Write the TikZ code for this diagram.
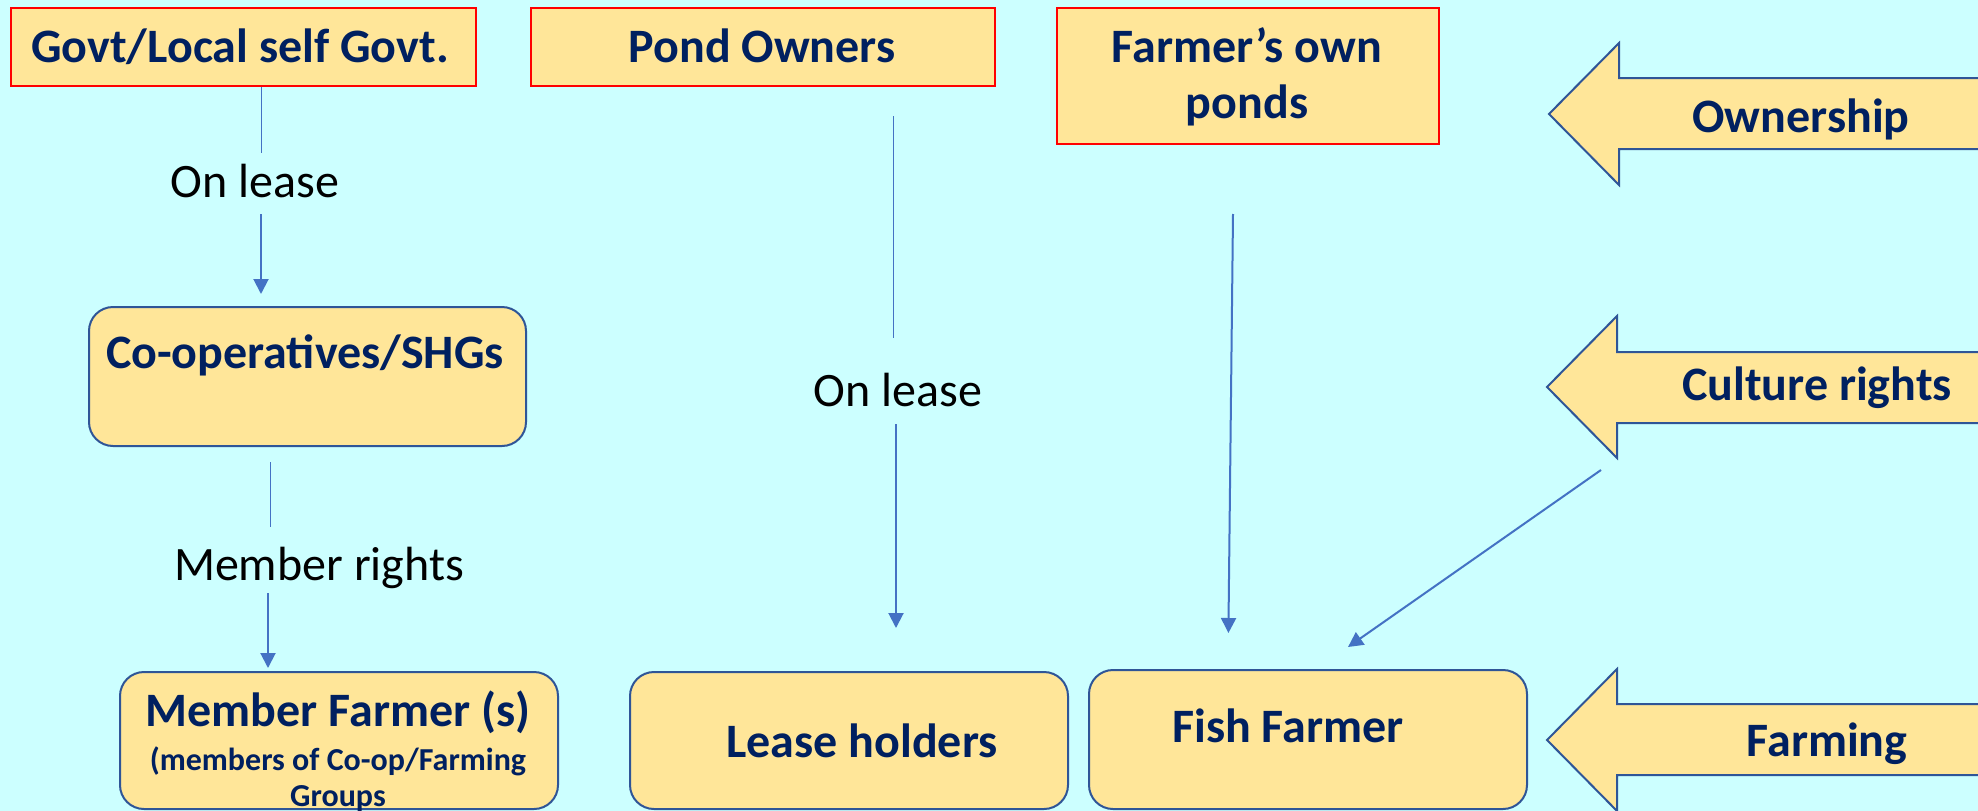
\documentclass[tikz,border=0pt]{standalone}
\usepackage{fontspec}
\setmainfont{Carlito}
\usetikzlibrary{arrows.meta}
\definecolor{bg}{HTML}{CCFFFF}
\definecolor{gold}{HTML}{FFE699}
\definecolor{navy}{HTML}{002060}
\definecolor{edge}{HTML}{2F5597}
\definecolor{link}{HTML}{4472C4}
\definecolor{redb}{HTML}{FF0000}
\begin{document}
\begin{tikzpicture}[x=1pt,y=-1pt,
 topbox/.style={draw=redb, line width=2pt, fill=gold, anchor=north west, inner sep=0},
 rbox/.style={draw=edge, line width=2pt, fill=gold, rounded corners=24pt, anchor=north west, inner sep=0},
 btext/.style={font=\fontsize{48}{58}\selectfont\bfseries, text=navy, anchor=base, inner sep=0},
 stext/.style={font=\fontsize{32}{38}\selectfont\bfseries, text=navy, anchor=base, inner sep=0},
 ltext/.style={font=\fontsize{48}{58}\selectfont, text=black, anchor=base, inner sep=0},
 conn/.style={draw=link, line width=1pt},
 arr/.style={draw=link, line width=2pt, -{Triangle[length=15pt,width=15pt]}},
 bigarrow/.style={draw=edge, line width=2pt, fill=gold, line join=miter}
]
\useasboundingbox (0,0) rectangle (1978,811);
\clip (0,0) rectangle (1978,811);
\fill[bg] (0,0) rectangle (1978,811);

% top boxes
\node[topbox, minimum width=465pt, minimum height=78pt] (govt) at (10,7) {};
\node[btext] (govtt) at (240,62) {Govt/Local self Govt.};
\node[topbox, minimum width=464pt, minimum height=78pt] (pond) at (530,7) {};
\node[btext] (pondt) at (762,62) {Pond Owners};
\node[topbox, minimum width=382pt, minimum height=136pt] (own) at (1056,7) {};
\node[btext] (ownt1) at (1247,62) {Farmer’s own};
\node[btext] (ownt2) at (1247,118) {ponds};

% rounded boxes
\node[rbox, minimum width=437pt, minimum height=139pt] (coop) at (88,306) {};
\node[btext] (coopt) at (305,368) {Co-operatives/SHGs};
\node[rbox, minimum width=438pt, minimum height=137pt] (member) at (119,671) {};
\node[btext] (membert1) at (338,726) {Member Farmer (s)};
\node[stext] (membert2) at (338,770) {(members of Co-op/Farming};
\node[stext] (membert3) at (338,806) {Groups};
\node[rbox, minimum width=438pt, minimum height=137pt] (lease) at (629,671) {};
\node[btext] (leaset) at (862,757) {Lease holders};
\node[rbox, minimum width=438pt, minimum height=139pt] (fish) at (1088,669) {};
\node[btext] (fisht) at (1288,742) {Fish Farmer};

% big arrows
\draw[bigarrow] (1549,114) -- (1619,43) -- (1619,78) -- (1990,78) -- (1990,149) -- (1619,149) -- (1619,185) -- cycle;
\node[btext] (ownership) at (1801,132) {Ownership};
\draw[bigarrow] (1547,387) -- (1617,316) -- (1617,352) -- (1990,352) -- (1990,423) -- (1617,423) -- (1617,458) -- cycle;
\node[btext] (culture) at (1817,400) {Culture rights};
\draw[bigarrow] (1547,740) -- (1617,669) -- (1617,704) -- (1990,704) -- (1990,775) -- (1617,775) -- (1617,811) -- cycle;
\node[btext] (farming) at (1827,756) {Farming};

% labels
\node[ltext] (lease1) at (255,197) {On lease};
\node[ltext] (mrights) at (319,580) {Member rights};
\node[ltext] (lease2) at (898,406) {On lease};

% connectors
\coordinate (a1) at (261,153);
\draw[conn] (govt.south -| a1) -- (a1);
\coordinate (a2) at (261,214);
\draw[arr, shorten >=12pt] (a2) -- (a2 |- coop.north);

\coordinate (b1) at (270,527);
\draw[conn, shorten <=15pt] (coop.south -| b1) -- (b1);
\coordinate (b2) at (268,593);
\draw[arr, shorten >=3pt] (b2) -- (b2 |- member.north);

\coordinate (c1) at (893,338);
\draw[conn, shorten <=29pt] (pond.south -| c1) -- (c1);
\coordinate (c2) at (896,424);
\draw[arr, shorten >=43pt] (c2) -- (c2 |- lease.north);

\coordinate (d1) at (1233,214);
\coordinate (d2) at (1228,633);
\draw[arr, shorten >=36pt] (d1) -- (d2 |- fish.north);

\coordinate (e1) at (1601,470);
\coordinate (e2) at (1348,647);
\draw[arr] (e1) -- (e2);
\end{tikzpicture}
\end{document}
